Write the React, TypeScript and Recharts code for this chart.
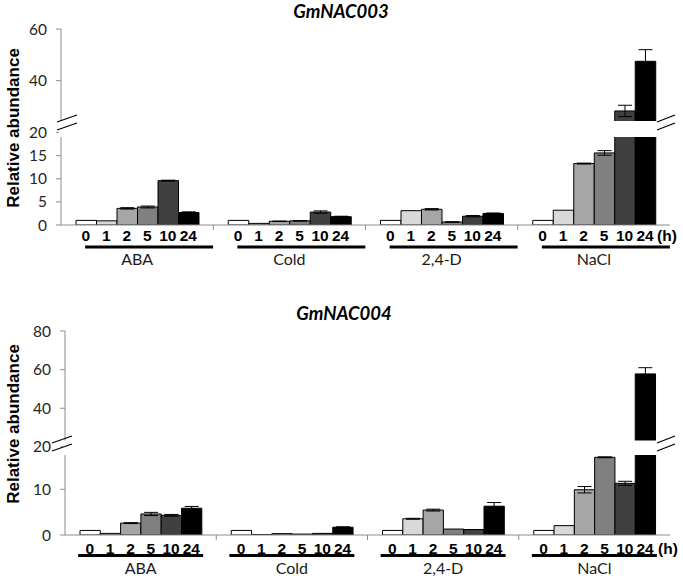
import React from 'react';
import { BarChart, Bar, XAxis, YAxis, ErrorBar } from 'recharts';

const GROUPS = ['ABA', 'Cold', '2,4-D', 'NaCl'];
const HOURS = ['0', '1', '2', '5', '10', '24'];
const BAR_COLORS = ['#ffffff', '#d9d9d9', '#a6a6a6', '#808080', '#404040', '#000000'];

// one row per treatment, one value per time point (h)
const NAC003_MEAN = [
  [1.0, 0.9, 3.6, 3.9, 9.6, 2.7],
  [1.0, 0.35, 0.8, 0.9, 2.8, 1.8],
  [1.0, 3.1, 3.4, 0.65, 1.9, 2.5],
  [1.0, 3.2, 13.3, 15.6, 28.3, 47.5],
];
const NAC003_ERR = [
  [0, 0, 0.15, 0.2, 0.1, 0.15],
  [0, 0, 0.05, 0.05, 0.25, 0.1],
  [0, 0, 0.15, 0.05, 0.15, 0.1],
  [0, 0, 0.1, 0.5, 2.2, 4.5],
];
const NAC004_MEAN = [
  [1.0, 0.35, 2.6, 4.6, 4.3, 5.85],
  [1.0, 0.1, 0.3, 0.2, 0.35, 1.7],
  [1.0, 3.55, 5.45, 1.3, 1.2, 6.3],
  [1.0, 2.05, 9.9, 17.0, 11.3, 57.8],
];
const NAC004_ERR = [
  [0, 0, 0.1, 0.35, 0.2, 0.4],
  [0, 0, 0, 0, 0, 0.1],
  [0, 0.1, 0.2, 0, 0, 0.8],
  [0, 0, 0.7, 0.1, 0.45, 3.2],
];

const NAC003_UPPER_TICKS = [20, 40, 60];
const NAC003_LOWER_TICKS = [0, 5, 10, 15];
const NAC004_UPPER_TICKS = [20, 40, 60, 80];
const NAC004_LOWER_TICKS = [0, 10];

const W = 683;
const AXIS = '#8c8c8c';
const LATO = "Lato, 'Open Sans', sans-serif";
const ARIAL = "'Liberation Sans', Arial, sans-serif";

type Cfg = {
  title: string;
  titleX: number;
  titleY: number;
  yLabelY: number;
  left: number;
  right: number;
  barSize: number;
  upperTop: number;
  upperBottom: number;
  upperDomain: [number, number];
  upperTicks: number[];
  gapTop: number;
  lowerTop: number;
  lowerBottom: number;
  lowerDomain: [number, number];
  lowerTicks: number[];
  tickDy: number;
  lineDy: number;
  nameDy: number;
  lineShift: number;
  lineWidth: number;
  breakY: number;
  breakLeftDx: number;
  hX: number;
  rightStroke: string;
};

const CFG_003: Cfg = {
  title: 'GmNAC003',
  titleX: 341,
  titleY: 11,
  yLabelY: 128,
  left: 61,
  right: 670,
  barSize: 20.5,
  upperTop: 29,
  upperBottom: 132.4,
  upperDomain: [20, 60],
  upperTicks: NAC003_UPPER_TICKS,
  gapTop: 121,
  lowerTop: 137,
  lowerBottom: 225,
  lowerDomain: [0, 19.05],
  lowerTicks: NAC003_LOWER_TICKS,
  tickDy: 10,
  lineDy: 22,
  nameDy: 33,
  lineShift: 12,
  lineWidth: 128,
  breakY: 118,
  breakLeftDx: -4,
  hX: 667,
  rightStroke: AXIS,
};

const CFG_004: Cfg = {
  title: 'GmNAC004',
  titleX: 344,
  titleY: 313,
  yLabelY: 424,
  left: 65,
  right: 670,
  barSize: 20.3,
  upperTop: 330.7,
  upperBottom: 446.6,
  upperDomain: [20, 80],
  upperTicks: NAC004_UPPER_TICKS,
  gapTop: 440.5,
  lowerTop: 455,
  lowerBottom: 535,
  lowerDomain: [0, 17.5],
  lowerTicks: NAC004_LOWER_TICKS,
  tickDy: 13,
  lineDy: 20.5,
  nameDy: 32,
  lineShift: 0,
  lineWidth: 125,
  breakY: 439,
  breakLeftDx: -13,
  hX: 668,
  rightStroke: '#333',
};

function GroupTick(props: any) {
  const { x, y, payload, index, cfg } = props;
  const band = (cfg.right - cfg.left) / GROUPS.length;
  const lx = x - cfg.lineWidth / 2 + cfg.lineShift;
  return (
    <g>
      {HOURS.map((h, i) => (
        <text
          key={h}
          x={x + cfg.barSize * (i - 2.5)}
          y={y + cfg.tickDy}
          textAnchor="middle"
          dominantBaseline="central"
          fontFamily={ARIAL}
          fontWeight="bold"
          fontSize={15.5}
          fill="#000"
        >
          {h}
        </text>
      ))}
      <line x1={lx} x2={lx + cfg.lineWidth} y1={y + cfg.lineDy} y2={y + cfg.lineDy} stroke="#000" strokeWidth={3} />
      <text
        x={x}
        y={y + cfg.nameDy}
        textAnchor="middle"
        dominantBaseline="central"
        fontFamily={LATO}
        fontSize={16}
        fill="#1a1a1a"
      >
        {payload.value}
      </text>
      {index < GROUPS.length - 1 && (
        <line x1={x + band / 2} x2={x + band / 2} y1={y} y2={y + 5} stroke={AXIS} />
      )}
    </g>
  );
}

function GeneChart({ cfg, mean, err }: { cfg: Cfg; mean: number[][]; err: number[][] }) {
  const rows = GROUPS.map((g, gi) => {
    const row: Record<string, any> = { group: g };
    HOURS.forEach((_, hi) => {
      const v = mean[gi][hi];
      const e = err[gi][hi];
      row['lo' + hi] = v;
      row['loErr' + hi] = v > cfg.lowerDomain[1] ? null : e;
      row['up' + hi] = v > cfg.upperDomain[0] ? v : null;
      row['upErr' + hi] = v > cfg.upperDomain[0] ? e : null;
    });
    return row;
  });

  const yTick = { fontFamily: LATO, fontSize: 15.5, fill: '#262626' };
  const upH = cfg.upperBottom - cfg.upperTop + 24;
  const loH = cfg.lowerBottom - cfg.lowerTop + 12 + 50;

  const bars = (prefix: 'up' | 'lo') =>
    HOURS.map((h, hi) => (
      <Bar
        key={h}
        yAxisId="v"
        dataKey={prefix + hi}
        name={h + ' h'}
        fill={BAR_COLORS[hi]}
        stroke="#000"
        strokeWidth={1}
        barSize={cfg.barSize}
        isAnimationActive={false}
      >
        <ErrorBar dataKey={prefix + 'Err' + hi} width={7} stroke="#000" strokeWidth={1} isAnimationActive={false} />
      </Bar>
    ));

  const by = cfg.breakY;
  const bl = cfg.left + cfg.breakLeftDx;
  const br = cfg.right - 13;

  return (
    <>
      <div style={{ position: 'absolute', left: 0, top: cfg.upperTop - 12 }}>
        <BarChart
          width={W}
          height={upH}
          data={rows}
          barGap={0}
          margin={{ top: 12, right: W - cfg.right, bottom: 12, left: 0 }}
        >
          <XAxis dataKey="group" hide />
          <XAxis
            xAxisId="top"
            dataKey="group"
            orientation="top"
            height={0}
            tick={false}
            tickLine={false}
            axisLine={{ stroke: AXIS }}
          />
          <YAxis
            yAxisId="v"
            domain={cfg.upperDomain}
            ticks={cfg.upperTicks}
            allowDataOverflow
            interval={0}
            width={cfg.left}
            tickSize={5}
            tickMargin={9}
            tick={yTick}
            axisLine={{ stroke: AXIS }}
            tickLine={{ stroke: AXIS }}
          />
          <YAxis
            yAxisId="r"
            orientation="right"
            width={0}
            domain={[0, 1]}
            tick={false}
            tickLine={false}
            axisLine={{ stroke: cfg.rightStroke }}
          />
          {bars('up')}
        </BarChart>
      </div>

      <div style={{ position: 'absolute', left: 0, top: cfg.lowerTop - 12 }}>
        <BarChart
          width={W}
          height={loH}
          data={rows}
          barGap={0}
          margin={{ top: 12, right: W - cfg.right, bottom: 0, left: 0 }}
        >
          <XAxis
            dataKey="group"
            height={50}
            tickSize={0}
            tickMargin={0}
            interval={0}
            tickLine={false}
            axisLine={{ stroke: AXIS }}
            tick={(p: any) => <GroupTick {...p} cfg={cfg} />}
          />
          <YAxis
            yAxisId="v"
            domain={cfg.lowerDomain}
            ticks={cfg.lowerTicks}
            allowDataOverflow
            interval={0}
            width={cfg.left}
            tickSize={5}
            tickMargin={9}
            tick={yTick}
            axisLine={{ stroke: AXIS }}
            tickLine={{ stroke: AXIS }}
          />
          <YAxis
            yAxisId="r"
            orientation="right"
            width={0}
            domain={[0, 1]}
            tick={false}
            tickLine={false}
            axisLine={{ stroke: cfg.rightStroke }}
          />
          {bars('lo')}
        </BarChart>
      </div>

      <svg
        width={W}
        height={579}
        style={{ position: 'absolute', left: 0, top: 0, pointerEvents: 'none' }}
      >
        {/* axis break */}
        <rect
          x={cfg.left - 2}
          y={cfg.gapTop}
          width={cfg.right - cfg.left + 4}
          height={cfg.lowerTop - cfg.gapTop}
          fill="#fff"
        />
        <g stroke="#000" strokeWidth={1.3}>
          <line x1={bl} y1={by + 4} x2={bl + 20} y2={by - 3} />
          <line x1={bl} y1={by + 12} x2={bl + 20} y2={by + 5} />
          <line x1={br} y1={by + 4} x2={br + 18} y2={by - 3} />
          <line x1={br} y1={by + 12} x2={br + 18} y2={by + 5} />
        </g>
        <text
          x={cfg.titleX}
          y={cfg.titleY}
          textAnchor="middle"
          dominantBaseline="central"
          fontFamily={LATO}
          fontWeight="bold"
          fontStyle="italic"
          fontSize={18.5}
          fill="#000"
        >
          {cfg.title}
        </text>
        <text
          transform={`translate(13, ${cfg.yLabelY}) rotate(-90)`}
          textAnchor="middle"
          dominantBaseline="central"
          fontFamily={ARIAL}
          fontWeight="bold"
          fontSize={17}
          fill="#000"
        >
          Relative abundance
        </text>
        <text
          x={cfg.hX}
          y={cfg.lowerBottom + cfg.tickDy}
          textAnchor="middle"
          dominantBaseline="central"
          fontFamily={ARIAL}
          fontWeight="bold"
          fontSize={15.5}
          fill="#000"
        >
          (h)
        </text>
      </svg>
    </>
  );
}

export default function App() {
  return (
    <div style={{ position: 'relative', width: W, height: 579, background: '#fff', overflow: 'hidden' }}>
      <style>{'body{margin:0}'}</style>
      <GeneChart cfg={CFG_003} mean={NAC003_MEAN} err={NAC003_ERR} />
      <GeneChart cfg={CFG_004} mean={NAC004_MEAN} err={NAC004_ERR} />
    </div>
  );
}
